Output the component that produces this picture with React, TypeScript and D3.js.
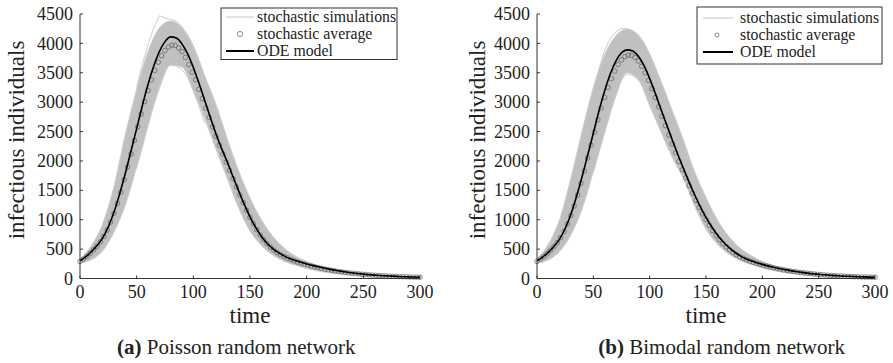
import React from 'react';
import * as d3 from 'd3';

// time grids
const T5 = d3.range(0, 301, 5);
const T3 = d3.range(0, 301, 3);
const T10 = d3.range(0, 301, 10);
const TPEAK = d3.range(50, 111, 5);

// ODE model, Poisson network (t = 0..300 step 5)
const odePoisson = [
  300, 370, 455, 560, 690, 880, 1130, 1440, 1790, 2170, 2550, 2940, 3300, 3610, 3860, 4030,
  4110, 4090, 3990, 3820, 3590, 3320, 3030, 2740, 2460, 2210, 1980, 1730, 1490, 1260, 1050,
  870, 720, 600, 510, 440, 385, 340, 305, 275, 248, 223, 200, 180, 160, 142, 125, 110, 97, 86,
  75, 66, 58, 51, 45, 40, 35, 31, 28, 25, 22,
];
// ODE model, bimodal network
const odeBimodal = [
  300, 365, 445, 545, 670, 850, 1090, 1390, 1730, 2100, 2470, 2850, 3190, 3480, 3700, 3840,
  3890, 3870, 3780, 3620, 3400, 3150, 2880, 2620, 2360, 2110, 1870, 1640, 1420, 1220, 1040,
  880, 745, 630, 535, 455, 390, 340, 300, 268, 240, 215, 192, 171, 152, 134, 118, 104, 92, 81,
  72, 63, 56, 49, 43, 38, 34, 30, 27, 24, 21,
];

// stochastic average (t = 0..300 step 3)
const avgPoisson = [
  290, 330, 378, 430, 490, 550, 625, 715, 825, 960, 1110, 1280, 1470, 1680, 1900, 2120, 2350,
  2580, 2800, 3010, 3200, 3380, 3540, 3680, 3790, 3880, 3940, 3970, 3965, 3925, 3860, 3760,
  3640, 3510, 3380, 3220, 3060, 2900, 2740, 2580, 2420, 2270, 2120, 1980, 1840, 1700, 1560,
  1420, 1290, 1160, 1040, 930, 830, 740, 665, 595, 535, 485, 440, 405, 375, 348, 322, 300, 280,
  262, 245, 228, 213, 199, 186, 173, 161, 150, 140, 130, 121, 112, 104, 97, 90, 84, 78, 72, 67,
  62, 58, 54, 50, 46, 43, 40, 37, 35, 32, 30, 28, 26, 24, 23, 21,
];
const avgBimodal = [
  290, 328, 372, 422, 480, 540, 610, 695, 800, 930, 1070, 1235, 1420, 1620, 1830, 2050, 2270,
  2490, 2700, 2900, 3080, 3250, 3400, 3530, 3640, 3720, 3775, 3800, 3795, 3760, 3700, 3610,
  3500, 3370, 3230, 3080, 2920, 2760, 2600, 2440, 2290, 2140, 1990, 1850, 1715, 1580, 1450,
  1330, 1210, 1100, 1000, 905, 815, 735, 660, 595, 537, 487, 443, 405, 372, 344, 318, 296, 276,
  258, 241, 225, 210, 196, 183, 170, 158, 147, 137, 127, 118, 110, 102, 95, 88, 82, 76, 70, 65,
  60, 56, 52, 48, 45, 42, 39, 36, 34, 31, 29, 27, 25, 24, 22, 21,
];

// envelope of the stochastic simulations (t = 0..300 step 10)
const simUpperPoisson = [
  330, 560, 930, 1570, 2450, 3220, 3860, 4260, 4380, 4270, 3960, 3450, 2960, 2370, 1830, 1370,
  1000, 720, 520, 380, 290, 220, 170, 135, 105, 82, 66, 54, 45, 38, 33,
];
const simLowerPoisson = [
  268, 320, 470, 790, 1250, 1900, 2600, 3230, 3630, 3600, 3200, 2720, 2200, 1700, 1200, 810,
  565, 400, 295, 228, 172, 128, 98, 76, 58, 44, 33, 25, 19, 14, 10,
];
const simUpperBimodal = [
  335, 580, 1000, 1700, 2500, 3250, 3800, 4130, 4240, 4130, 3820, 3360, 2860, 2350, 1810, 1380,
  1000, 720, 520, 390, 290, 220, 170, 135, 105, 82, 66, 54, 45, 38, 33,
];
const simLowerBimodal = [
  265, 315, 460, 740, 1180, 1820, 2480, 3100, 3500, 3380, 2940, 2500, 2060, 1700, 1230, 840,
  590, 420, 310, 240, 182, 135, 102, 78, 58, 44, 33, 25, 19, 14, 10,
];

// a few extreme single runs around the peak (t = 50..110 step 5)
const extremeHighPoisson = [3260, 3640, 3980, 4260, 4470, 4430, 4410, 4380, 4290, 4120, 3900, 3620, 3300];
const extremeLowPoisson = [1880, 2230, 2620, 2980, 3300, 3560, 3640, 3610, 3560, 3420, 3190, 2930, 2640];
const extremeHighBimodal = [3200, 3560, 3880, 4080, 4200, 4250, 4250, 4220, 4150, 4010, 3800, 3550, 3260];
const extremeLowBimodal = [1800, 2150, 2500, 2850, 3150, 3400, 3480, 3450, 3380, 3260, 3040, 2780, 2500];

const xTicks = [0, 50, 100, 150, 200, 250, 300];
const yTicks = [0, 500, 1000, 1500, 2000, 2500, 3000, 3500, 4000, 4500];
const legendLabels = ['stochastic simulations', 'stochastic average', 'ODE model'];

const FONT = "'Liberation Serif', 'Times New Roman', serif";
const txt = { fontFamily: FONT };

type LegendBox = {
  x: number; y: number; w: number; h: number;
  s0: number; s1: number; tx: number; cx: number;
  rows: number[]; r: number;
};
type PanelProps = {
  x0: number;
  x1: number;
  ode: number[];
  avg: number[];
  upper: number[];
  lower: number[];
  extremes: number[][];
  tag: string;
  caption: string;
  captionX: number;
  captionAnchor: 'start' | 'end';
  ylabelX: number;
  legend: LegendBox;
};

function Panel(p: PanelProps) {
  const x = d3.scaleLinear().domain([0, 300]).range([p.x0, p.x1]);
  const y = d3.scaleLinear().domain([0, 4500]).range([278.5, 14]);

  const band = d3
    .area<number>()
    .x((_, i) => x(T10[i]))
    .y0((_, i) => y(p.lower[i]))
    .y1((d) => y(d))
    .curve(d3.curveMonotoneX)(p.upper);
  const edge = d3
    .line<number>()
    .x((_, i) => x(T10[i]))
    .y((d) => y(d))
    .curve(d3.curveMonotoneX);
  const peakLine = d3
    .line<number>()
    .x((_, i) => x(TPEAK[i]))
    .y((d) => y(d))
    .curve(d3.curveLinear);
  const odePath = d3
    .line<number>()
    .x((_, i) => x(T5[i]))
    .y((d) => y(d))
    .curve(d3.curveMonotoneX)(p.ode);

  const L = p.legend;
  const axisColor = '#333';

  return (
    <g>
      {/* simulations band */}
      <path d={band || ''} fill="#c0c0c0" />
      <path d={edge(p.upper) || ''} fill="none" stroke="#cdcdcd" strokeWidth={1} />
      <path d={edge(p.lower) || ''} fill="none" stroke="#cdcdcd" strokeWidth={1} />
      {p.extremes.map((s, i) => (
        <path key={i} d={peakLine(s) || ''} fill="none" stroke="#c6c6c6" strokeWidth={0.9} />
      ))}
      {/* stochastic average */}
      {p.avg.map((v, i) => (
        <circle key={i} cx={x(T3[i])} cy={y(v)} r={2.3} fill="none" stroke="#6a6a6a" strokeWidth={0.8} />
      ))}
      {/* ODE */}
      <path d={odePath || ''} fill="none" stroke="#000" strokeWidth={1.6} />

      {/* axes */}
      <line x1={p.x0} x2={p.x0} y1={y(4500)} y2={y(0)} stroke={axisColor} strokeWidth={1} />
      <line x1={p.x0} x2={p.x1} y1={y(0)} y2={y(0)} stroke={axisColor} strokeWidth={1} />
      {yTicks.map((t) => (
        <g key={t}>
          <line x1={p.x0} x2={p.x0 + 3} y1={y(t)} y2={y(t)} stroke={axisColor} />
          <text x={p.x0 - 7} y={y(t)} dy="0.34em" textAnchor="end" fontSize={18} style={txt} fill="#222">
            {t}
          </text>
        </g>
      ))}
      {xTicks.map((t) => (
        <g key={t}>
          <line x1={x(t)} x2={x(t)} y1={y(0)} y2={y(0) - 3} stroke={axisColor} />
          <text x={x(t)} y={298} textAnchor="middle" fontSize={18} style={txt} fill="#222">
            {t}
          </text>
        </g>
      ))}
      <text x={(p.x0 + p.x1) / 2} y={323} textAnchor="middle" fontSize={23} style={txt} fill="#222">
        time
      </text>
      <text
        transform={`translate(${p.ylabelX},${140}) rotate(-90)`}
        textAnchor="middle"
        fontSize={23}
        style={txt}
        fill="#222"
      >
        infectious individuals
      </text>
      <text x={p.captionX} y={354} textAnchor={p.captionAnchor} fontSize={21} style={txt} fill="#222">
        <tspan fontWeight="bold">{p.tag}</tspan> {p.caption}
      </text>

      {/* legend */}
      <rect x={L.x} y={L.y} width={L.w} height={L.h} fill="#fff" stroke="#333" strokeWidth={1} />
      <line x1={L.s0} x2={L.s1} y1={L.rows[0]} y2={L.rows[0]} stroke="#c4c4c4" strokeWidth={1} />
      <circle cx={L.cx} cy={L.rows[1]} r={L.r} fill="none" stroke="#6a6a6a" strokeWidth={0.8} />
      <line x1={L.s0} x2={L.s1} y1={L.rows[2]} y2={L.rows[2]} stroke="#000" strokeWidth={2} />
      {legendLabels.map((s, i) => (
        <text key={s} x={L.tx} y={L.rows[i]} dy="0.32em" fontSize={15.8} style={txt} fill="#222">
          {s}
        </text>
      ))}
    </g>
  );
}

export default function App() {
  return (
    <svg width={893} height={363} style={{ position: 'absolute', left: 0, top: 0, background: '#fff' }}>
      <Panel
        x0={80}
        x1={420}
        ode={odePoisson}
        avg={avgPoisson}
        upper={simUpperPoisson}
        lower={simLowerPoisson}
        extremes={[extremeHighPoisson, extremeLowPoisson]}
        tag="(a)"
        caption="Poisson random network"
        captionX={117}
        captionAnchor="start"
        ylabelX={23.5}
        legend={{ x: 221, y: 8, w: 176, h: 51.5, s0: 226, s1: 254, tx: 257, cx: 240, rows: [17, 34, 51], r: 2.6 }}
      />
      <Panel
        x0={537}
        x1={875}
        ode={odeBimodal}
        avg={avgBimodal}
        upper={simUpperBimodal}
        lower={simLowerBimodal}
        extremes={[extremeHighBimodal, extremeLowBimodal]}
        tag="(b)"
        caption="Bimodal random network"
        captionX={845}
        captionAnchor="end"
        ylabelX={485}
        legend={{ x: 697, y: 7, w: 185, h: 57, s0: 703, s1: 733, tx: 740, cx: 717, rows: [18, 35, 52], r: 2 }}
      />
    </svg>
  );
}
